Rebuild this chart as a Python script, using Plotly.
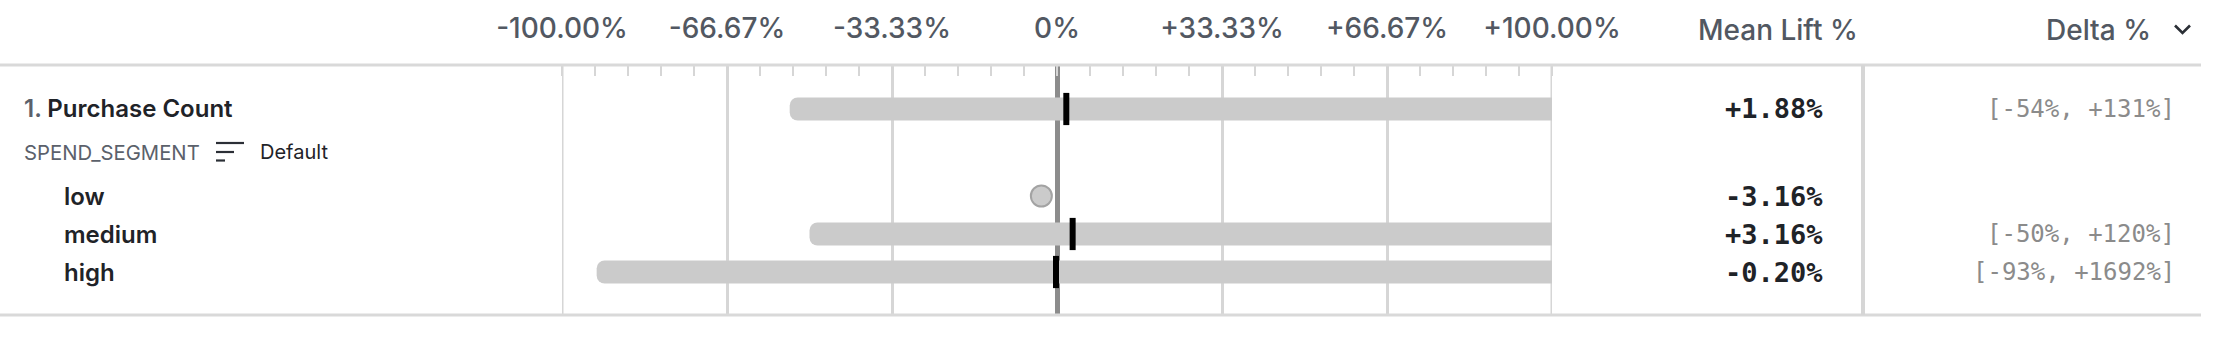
import plotly.graph_objects as go

W, H = 2226, 342

# ---------------- data ----------------
metric_index = 1
metric_name = "Purchase Count"
dimension_name = "SPEND_SEGMENT"
sort_label = "Default"
overall_mean = 1.88
overall_ci_low = -54
overall_ci_high = 131

segments = ["low", "medium", "high"]
segment_means = [-3.16, 3.16, -0.20]
segment_ci_low = [None, -50, -93]
segment_ci_high = [None, 120, 1692]

tick_vals = [-100, -200 / 3, -100 / 3, 0, 100 / 3, 200 / 3, 100]
axis_range = [-100, 100]
minor_step = 100 / 15

header_mean = "Mean Lift %"
header_delta = "Delta %"

# ---------------- layout helpers (pixel positions) ----------------
def fx(p):
    return p / W


def fy(p):
    return 1 - p / H


ROW_Y_METRIC = 109
ROW_Y_DIM = 152
ROW_Y_SEGMENTS = [196, 234, 272]
HEADER_Y = 30
TOP_LINE = 65
BOTTOM_LINE = 315

row_names = [metric_name] + segments
row_means = [overall_mean] + segment_means
row_lo = [overall_ci_low] + segment_ci_low
row_hi = [overall_ci_high] + segment_ci_high
row_y = [ROW_Y_METRIC] + ROW_Y_SEGMENTS


def fmt_tick(v):
    if abs(v) < 1e-9:
        return "0%"
    return f"{v:+.2f}%"


tick_text = [fmt_tick(v) for v in tick_vals]
minor_vals = [axis_range[0] + k * minor_step for k in range(31)]

BAR_COLOR = "#cbcbcb"
GRID_COLOR = "#d6d6d6"
TEXT_DARK = "#1f2328"
TEXT_GRAY = "#525862"
HEADER_FONT = dict(family="Inter", size=28, color=TEXT_GRAY, weight=500)

fig = go.Figure()

# CI bars
ci_idx = [i for i in range(len(row_names)) if row_lo[i] is not None]
fig.add_trace(go.Bar(
    orientation="h",
    y=[row_y[i] for i in ci_idx],
    base=[row_lo[i] for i in ci_idx],
    x=[row_hi[i] - row_lo[i] for i in ci_idx],
    width=23,
    marker=dict(color=BAR_COLOR, line=dict(width=0)),
    hoverinfo="skip",
))

# mean markers
fig.add_trace(go.Scatter(
    x=[row_means[i] for i in ci_idx],
    y=[row_y[i] for i in ci_idx],
    mode="markers",
    marker=dict(symbol="line-ns", size=23, color="black",
                line=dict(color="black", width=6)),
    hoverinfo="skip",
))

# point-only rows (no CI)
pt_idx = [i for i in range(len(row_names)) if row_lo[i] is None]
fig.add_trace(go.Scatter(
    x=[row_means[i] for i in pt_idx],
    y=[row_y[i] for i in pt_idx],
    mode="markers",
    marker=dict(symbol="circle", size=21, color=BAR_COLOR,
                line=dict(color="#a3a3a3", width=2)),
    hoverinfo="skip",
))

annotations = []
# header texts
annotations.append(dict(text=header_mean, x=fx(1778), y=fy(HEADER_Y), xref="paper", yref="paper",
                        xanchor="center", yanchor="middle", showarrow=False, borderpad=0,
                        font=HEADER_FONT))
annotations.append(dict(text=header_delta, x=fx(2152), y=fy(HEADER_Y), xref="paper", yref="paper",
                        xanchor="right", yanchor="middle", showarrow=False, borderpad=0,
                        font=HEADER_FONT))

# left labels
annotations.append(dict(
    text=f'<span style="color:#5b616b">{metric_index}.</span> {metric_name}',
    x=fx(23), y=fy(ROW_Y_METRIC), xref="paper", yref="paper",
    xanchor="left", yanchor="middle", showarrow=False, borderpad=0,
    font=dict(family="Inter", size=24, color=TEXT_DARK, weight=600)))
annotations.append(dict(
    text=dimension_name, x=fx(23), y=fy(ROW_Y_DIM), xref="paper", yref="paper",
    xanchor="left", yanchor="middle", showarrow=False, borderpad=0,
    font=dict(family="Inter", size=20.3, color="#5b616b")))
annotations.append(dict(
    text=sort_label, x=fx(259), y=fy(ROW_Y_DIM), xref="paper", yref="paper",
    xanchor="left", yanchor="middle", showarrow=False, borderpad=0,
    font=dict(family="Inter", size=20, color=TEXT_DARK)))
for name, yy in zip(segments, ROW_Y_SEGMENTS):
    annotations.append(dict(
        text=name, x=fx(63), y=fy(yy), xref="paper", yref="paper",
        xanchor="left", yanchor="middle", showarrow=False, borderpad=0,
        font=dict(family="Inter", size=24, color=TEXT_DARK, weight=600)))

# values columns
for i in range(len(row_names)):
    annotations.append(dict(
        text=f"{row_means[i]:+.2f}%", x=fx(1824), y=fy(row_y[i]), xref="paper", yref="paper",
        xanchor="right", yanchor="middle", showarrow=False, borderpad=0,
        font=dict(family="DejaVu Sans Mono", size=27, color=TEXT_DARK, weight=700)))
    if row_lo[i] is not None:
        annotations.append(dict(
            text=f"[{row_lo[i]:+.0f}%, {row_hi[i]:+.0f}%]", x=fx(2176), y=fy(row_y[i]),
            xref="paper", yref="paper",
            xanchor="right", yanchor="middle", showarrow=False, borderpad=0,
            font=dict(family="DejaVu Sans Mono", size=24, color="#8b8b8b")))

shapes = []
# gridlines at the axis ends (plotly hides grid lines that sit on the range edges)
for v in axis_range:
    shapes.append(dict(type="line", xref="x", yref="paper", x0=v, x1=v,
                       y0=fy(BOTTOM_LINE), y1=fy(TOP_LINE), layer="below",
                       line=dict(color=GRID_COLOR, width=3)))
# horizontal rules
for yy in (TOP_LINE, BOTTOM_LINE):
    shapes.append(dict(type="line", xref="paper", yref="paper", x0=0, x1=fx(2201),
                       y0=fy(yy), y1=fy(yy), line=dict(color="#d9d9d9", width=3)))
# column separator
shapes.append(dict(type="line", xref="paper", yref="paper", x0=fx(1863), x1=fx(1863),
                   y0=fy(TOP_LINE), y1=fy(BOTTOM_LINE), line=dict(color=GRID_COLOR, width=4)))
# sort icon
for (x0, x1, yy) in [(216, 244, 143), (216, 234, 152), (216, 225, 160.5)]:
    shapes.append(dict(type="line", xref="paper", yref="paper", x0=fx(x0), x1=fx(x1),
                       y0=fy(yy), y1=fy(yy), line=dict(color="#2b2f36", width=2.2)))
# chevron
shapes.append(dict(type="path", xref="paper", yref="paper",
                   path=f"M {fx(2175)} {fy(25.5)} L {fx(2182.5)} {fy(33)} L {fx(2190)} {fy(25.5)}",
                   line=dict(color="#2b2f36", width=2.6)))

fig.update_layout(
    width=W, height=H,
    margin=dict(l=0, r=0, t=0, b=0, autoexpand=False),
    paper_bgcolor="white", plot_bgcolor="white",
    showlegend=False,
    barcornerradius=8,
    xaxis=dict(
        domain=[fx(562), fx(1552)], range=axis_range, side="top", anchor="y",
        automargin=False,
        tickmode="array", tickvals=tick_vals, ticktext=tick_text,
        showgrid=True, gridcolor=GRID_COLOR, gridwidth=3,
        zeroline=True, zerolinecolor="#8c8c8c", zerolinewidth=5,
        ticks="", showline=False, ticklabelstandoff=20,
        tickfont=HEADER_FONT,
        minor=dict(tickmode="array", tickvals=minor_vals, ticks="inside", ticklen=11,
                   tickwidth=2, tickcolor=GRID_COLOR, showgrid=False),
        fixedrange=True,
    ),
    yaxis=dict(
        domain=[1 - BOTTOM_LINE / H, 1 - TOP_LINE / H],
        range=[BOTTOM_LINE, TOP_LINE], automargin=False,
        visible=False, showgrid=False, zeroline=False, fixedrange=True,
    ),
    annotations=annotations,
    shapes=shapes,
)

fig.write_html("out.html", config={"displayModeBar": False})
